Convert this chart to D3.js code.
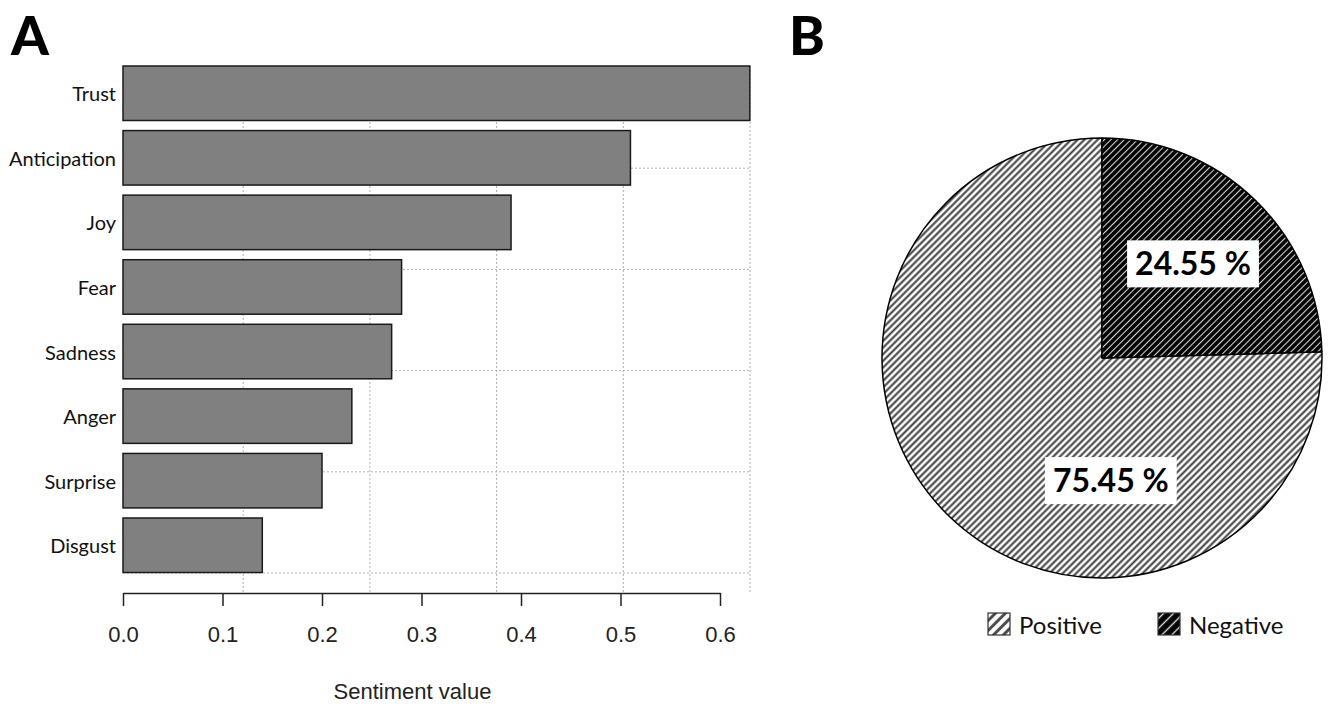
<!DOCTYPE html>
<html>
<head>
<meta charset="utf-8">
<script src="https://cdn.jsdelivr.net/npm/d3@7"></script>
<style>
  html, body { margin: 0; padding: 0; background: #fff; }
  svg { display: block; }
</style>
</head>
<body>
<svg id="chart" width="1330" height="706"></svg>
<script>
// ---------- data ----------
const categories = ["Trust", "Anticipation", "Joy", "Fear", "Sadness", "Anger", "Surprise", "Disgust"];
const sentimentValues = [0.63, 0.51, 0.39, 0.28, 0.27, 0.23, 0.20, 0.14];
const xTickValues = [0, 0.1, 0.2, 0.3, 0.4, 0.5, 0.6];
const xAxisTitle = "Sentiment value";
const polarityLabels = ["Positive", "Negative"];
const polarityShares = [75.45, 24.55];
const panelLabels = ["A", "B"];

// ---------- setup ----------
const svg = d3.select("#chart");
const defs = svg.append("defs");

function hatch(id, spacing, bg, fg, lw) {
  const p = defs.append("pattern")
    .attr("id", id)
    .attr("patternUnits", "userSpaceOnUse")
    .attr("width", spacing).attr("height", spacing)
    .attr("patternTransform", "rotate(45)");
  p.append("rect").attr("width", spacing).attr("height", spacing).attr("fill", bg);
  p.append("line").attr("x1", spacing / 2).attr("x2", spacing / 2)
    .attr("y1", 0).attr("y2", spacing)
    .attr("stroke", fg).attr("stroke-width", lw);
}
hatch("hatchPos", 4.7, "#ffffff", "#3a3a3a", 2.0);
hatch("hatchNeg", 4.7, "#000000", "#d8d8d8", 1.1);
hatch("hatchPosL", 7, "#ffffff", "#444444", 2.8);
hatch("hatchNegL", 7, "#000000", "#e0e0e0", 1.4);

// ---------- panel A: bars ----------
const barLeft = 123, barTop = 66, barBottom = 572.5;
const x = d3.scaleLinear().domain([0, 0.6]).range([barLeft, 720]);
const y = d3.scaleBand().domain(categories).range([barTop, barBottom])
  .paddingInner(0.156).paddingOuter(0);

// grid (R-style grid over the plot region)
const gx = d3.scaleLinear().domain([0, 5]).range([116.5, 750]);
const gy = d3.scaleLinear().domain([0, 5]).range([67, 573]);
const grid = svg.append("g").attr("stroke", "#b0b0b0").attr("stroke-width", 1)
  .attr("stroke-dasharray", "2,2").attr("fill", "none");
d3.range(1, 6).forEach(k => {
  grid.append("line").attr("x1", gx(k)).attr("x2", gx(k))
    .attr("y1", 66).attr("y2", 593);
  grid.append("line").attr("x1", barLeft).attr("x2", 750)
    .attr("y1", gy(k)).attr("y2", gy(k));
});

svg.append("g").selectAll("rect")
  .data(categories)
  .join("rect")
  .attr("x", x(0))
  .attr("y", d => y(d))
  .attr("width", (d, i) => x(sentimentValues[i]) - x(0))
  .attr("height", y.bandwidth())
  .attr("fill", "#808080")
  .attr("stroke", "#1a1a1a")
  .attr("stroke-width", 1.5);

// category labels
svg.append("g").selectAll("text")
  .data(categories)
  .join("text")
  .attr("x", 116)
  .attr("y", d => y(d) + y.bandwidth() / 2 + 1)
  .attr("dy", "0.35em")
  .attr("text-anchor", "end")
  .attr("font-family", "Lato, 'Open Sans', sans-serif")
  .attr("font-size", 20)
  .attr("fill", "#111")
  .text(d => d);

// x axis
const xAxis = d3.axisBottom(x).tickValues(xTickValues)
  .tickFormat(d3.format(".1f")).tickSize(13).tickSizeOuter(0).tickPadding(20);
const ax = svg.append("g").attr("transform", "translate(0,593)").call(xAxis);
ax.select(".domain").attr("stroke", "#222").attr("stroke-width", 1.5);
ax.selectAll(".tick line").attr("stroke", "#222").attr("stroke-width", 1.5);
ax.selectAll(".tick text")
  .attr("font-family", "'Liberation Sans', Arial, sans-serif")
  .attr("font-size", 22).attr("fill", "#222");

svg.append("text")
  .attr("x", (x(0) + x(0.6)) / 2 - 9).attr("y", 699)
  .attr("text-anchor", "middle")
  .attr("font-family", "'Liberation Sans', Arial, sans-serif")
  .attr("font-size", 22).attr("fill", "#222")
  .text(xAxisTitle);

// ---------- panel B: pie ----------
const cx = 1102, cy = 358, R = 220;
const pieData = polarityLabels.map((l, i) => ({ label: l, value: polarityShares[i] }));
const order = ["Negative", "Positive"];
const pie = d3.pie().sort((a, b) => order.indexOf(a.label) - order.indexOf(b.label))
  .value(d => d.value);
const arcs = pie(pieData);
const arc = d3.arc().innerRadius(0).outerRadius(R);
const fills = { Positive: "url(#hatchPos)", Negative: "url(#hatchNeg)" };

const pg = svg.append("g").attr("transform", `translate(${cx},${cy})`);
pg.selectAll("path")
  .data(arcs)
  .join("path")
  .attr("d", arc)
  .attr("fill", d => fills[d.data.label])
  .attr("stroke", "#000")
  .attr("stroke-width", 1.5)
  .attr("stroke-linejoin", "round");

// labels with white boxes
const labelArc = d3.arc().innerRadius(R * 0.6).outerRadius(R * 0.6);
const labelPos = d => {
  if (d.data.label === "Negative") {
    const c = labelArc.centroid(d);
    return [c[0] - 1, c[1]];
  }
  return [R * 0.04, R * 0.555];
};
arcs.forEach(d => {
  const [lx, ly] = labelPos(d);
  const g = pg.append("g").attr("transform", `translate(${lx},${ly})`);
  const rect = g.append("rect").attr("fill", "#fff");
  const t = g.append("text")
    .attr("text-anchor", "middle").attr("dy", "0.36em")
    .attr("font-family", "Lato, 'Open Sans', sans-serif")
    .attr("font-weight", "bold").attr("font-size", 32).attr("fill", "#000")
    .text(d3.format(".2f")(d.data.value) + " %");
  const w = t.node().getComputedTextLength() + 16;
  rect.attr("x", -w / 2).attr("y", -23).attr("width", w).attr("height", 47);
});

// legend
const legendFills = { Positive: "url(#hatchPosL)", Negative: "url(#hatchNegL)" };
const legendX = d3.scaleOrdinal().domain(polarityLabels).range([988, 1158]);
const lg = svg.append("g");
polarityLabels.forEach(l => {
  lg.append("rect").attr("x", legendX(l)).attr("y", 613)
    .attr("width", 22).attr("height", 22)
    .attr("fill", legendFills[l]).attr("stroke", "#333").attr("stroke-width", 1.2);
  lg.append("text").attr("x", legendX(l) + 31).attr("y", 625).attr("dy", "0.36em")
    .attr("font-family", "Lato, 'Open Sans', sans-serif")
    .attr("font-size", 24).attr("fill", "#111").text(l);
});

// panel letters
svg.append("g").selectAll("text")
  .data(panelLabels)
  .join("text")
  .attr("x", (d, i) => i === 0 ? 11 : 789)
  .attr("y", 55)
  .attr("font-family", "Lato, 'Open Sans', sans-serif")
  .attr("font-weight", 900)
  .attr("font-size", 54)
  .attr("fill", "#000")
  .text(d => d);
</script>
</body>
</html>
